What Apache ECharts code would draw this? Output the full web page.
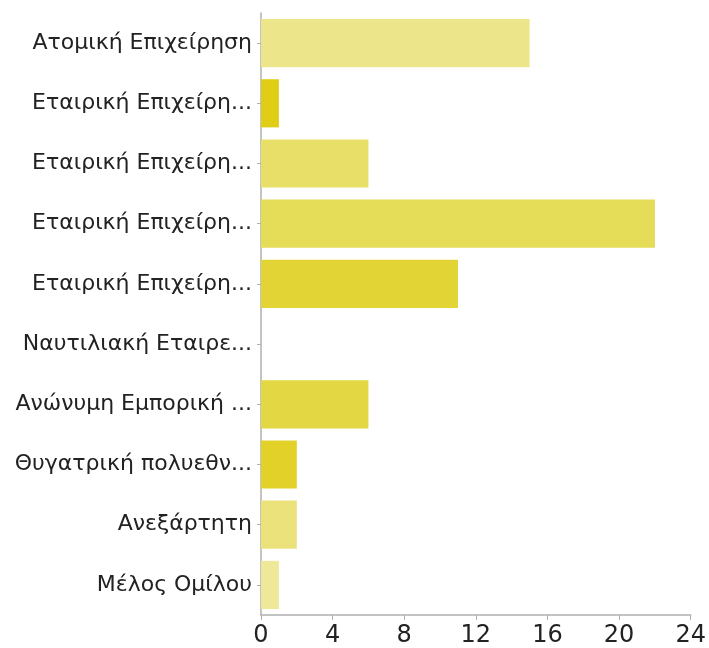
<!DOCTYPE html>
<html>
<head>
<meta charset="utf-8">
<script src="https://cdn.jsdelivr.net/npm/echarts@6/dist/echarts.min.js"></script>
<style>
  html, body { margin: 0; padding: 0; background: #fff; }
  #chart { width: 709px; height: 648px; }
</style>
</head>
<body>
<div id="chart"></div>
<script>
// categories, top to bottom
var categories = [
  'Ατομική Επιχείρηση',
  'Εταιρική Επιχείρη...',
  'Εταιρική Επιχείρη...',
  'Εταιρική Επιχείρη...',
  'Εταιρική Επιχείρη...',
  'Ναυτιλιακή Εταιρε...',
  'Ανώνυμη Εμπορική ...',
  'Θυγατρική πολυεθν...',
  'Ανεξάρτητη',
  'Μέλος Ομίλου'
];
var values = [15, 1, 6, 22, 11, 0, 6, 2, 2, 1];
var barColors = ['#ede589', '#e0cd16', '#e8df69', '#e5dc57', '#e2d434',
                 '#e3d744', '#e3d744', '#e1d128', '#ebe27c', '#efe898'];
var xTicks = [0, 4, 8, 12, 16, 20, 24];

var chart = echarts.init(document.getElementById('chart'));
var option = {
  animation: false,
  grid: { left: 261, right: 16, top: 13, bottom: 32 },
  xAxis: {
    type: 'value',
    min: xTicks[0],
    max: xTicks[xTicks.length - 1],
    interval: 4,
    splitLine: { show: false },
    axisLine: { show: true, lineStyle: { color: '#b0b0b0', width: 1.5 } },
    axisTick: { show: true, length: 5, lineStyle: { color: '#b0b0b0' } },
    axisLabel: { color: '#222', fontSize: 24, fontFamily: 'DejaVu Sans', margin: 9 }
  },
  yAxis: {
    type: 'category',
    inverse: true,
    data: categories,
    axisLine: { show: true, lineStyle: { color: '#b0b0b0', width: 1.5 } },
    axisTick: { show: true, length: 4, alignWithLabel: true, lineStyle: { color: '#b0b0b0' } },
    axisLabel: { color: '#222', fontSize: 22, fontFamily: 'DejaVu Sans', margin: 9 }
  },
  series: [{
    type: 'bar',
    barCategoryGap: '20%',
    data: values.map(function (v, i) {
      return { value: v, itemStyle: { color: barColors[i] } };
    })
  }]
};
chart.setOption(option);
</script>
</body>
</html>
